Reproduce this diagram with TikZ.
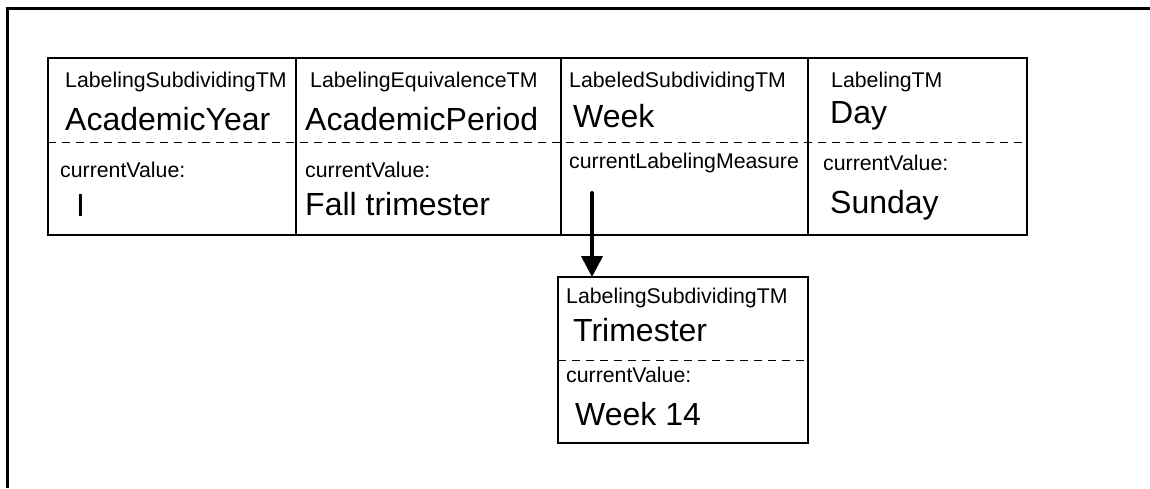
\documentclass[tikz,border=0pt]{standalone}
\usepackage{fontspec}
\setmainfont{Liberation Sans}
\usetikzlibrary{arrows.meta}

\tikzset{
  tmbox/.style={draw, line width=2pt, inner sep=0pt, outer sep=0pt, anchor=north west},
  kind/.style={anchor=base west, inner sep=0pt, font=\fontsize{21.3}{24}\selectfont},
  tmname/.style={anchor=base west, inner sep=0pt, font=\fontsize{32}{36}\selectfont},
  divider/.style={line width=1pt, dash pattern=on 8pt off 6pt},
}

\begin{document}
\begin{tikzpicture}[x=1pt,y=-1pt,>={Triangle[length=21pt,width=21pt]}]
  \useasboundingbox (0,0) rectangle (1150,488);
  % frame
  \draw[line width=3pt] (7.5,488) -- (7.5,8.5) -- (1150,8.5);

  % upper row of measures
  \node[tmbox, minimum width=248pt, minimum height=177pt] (yearbox) at (48,58) {};
  \node[tmbox, minimum width=265pt, minimum height=177pt] (periodbox) at (yearbox.north east) {};
  \node[tmbox, minimum width=247pt, minimum height=177pt] (weekbox) at (periodbox.north east) {};
  \node[tmbox, minimum width=219pt, minimum height=177pt] (daybox) at (weekbox.north east) {};
  \draw[divider] (48,142) -- (1027,142);

  \node[kind] (yearkind) at (65,87) {LabelingSubdividingTM};
  \node[tmname] (yearname) at (65,130) {AcademicYear};
  \node[kind] (yearslot) at (60,177) {currentValue:};
  \node[tmname] (yearvalue) at (76,216) {I};

  \node[kind] (periodkind) at (310,87) {LabelingEquivalenceTM};
  \node[tmname] (periodname) at (305,130) {AcademicPeriod};
  \node[kind] (periodslot) at (305,177) {currentValue:};
  \node[tmname] (periodvalue) at (305,215) {Fall trimester};

  \node[kind] (weekkind) at (569,87) {LabeledSubdividingTM};
  \node[tmname] (weekname) at (573,127) {Week};
  \node[kind] (weekslot) at (569,168) {currentLabelingMeasure};

  \node[kind] (daykind) at (831,87) {LabelingTM};
  \node[tmname] (dayname) at (830,123) {Day};
  \node[kind] (dayslot) at (823,170) {currentValue:};
  \node[tmname] (dayvalue) at (830,213) {Sunday};

  % labeling measure of the week
  \node[tmbox, minimum width=250pt, minimum height=166pt] (trimesterbox) at (558,277) {};
  \draw[divider] (558,360) -- (805,360);
  \node[kind] (trimesterkind) at (566,303) {LabelingSubdividingTM};
  \node[tmname] (trimestername) at (573,341) {Trimester};
  \node[kind] (trimesterslot) at (566,382) {currentValue:};
  \node[tmname] (trimestervalue) at (575,425) {Week 14};

  \coordinate (measure) at (592,193);
  \draw[->, line width=4pt, line cap=round] (measure) -- (measure |- trimesterbox.north);
\end{tikzpicture}
\end{document}
